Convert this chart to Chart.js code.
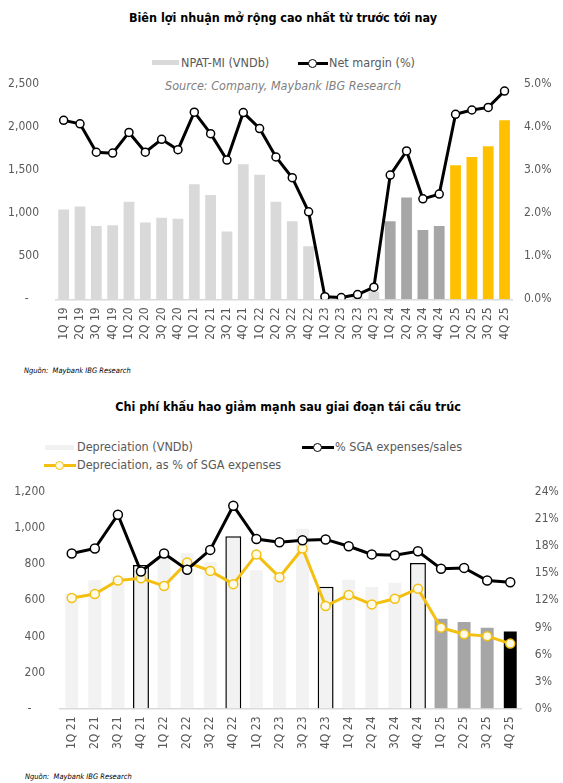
<!DOCTYPE html>
<html>
<head>
<meta charset="utf-8">
<script src="https://cdn.jsdelivr.net/npm/chart.js@4"></script>
<style>
  body { margin: 0; background: #fff; }
  #page { position: relative; width: 563px; height: 783px; overflow: hidden;
          font-family: "DejaVu Sans Condensed", "DejaVu Sans", sans-serif; }
  .abs { position: absolute; white-space: nowrap; }
  .title { font-weight: bold; font-size: 12.5px; color: #000; line-height: 16px; }
  .leg { font-size: 12.5px; color: #595959; line-height: 14px; }
  .src { font-size: 12.5px; color: #7f7f7f; font-style: italic; line-height: 14px; }
  .foot { font-size: 7.5px; font-style: italic; color: #000; line-height: 10px; }
  .mk { position: absolute; height: 3px; }
  .mk i { position: absolute; left: 50%; top: 50%; width: 7px; height: 7px; margin: -5px 0 0 -5px;
          border-radius: 50%; border: 1.5px solid; }
  canvas { position: absolute; left: 0; }
</style>
</head>
<body>
<div id="page">
  <div class="abs title" style="left:0;width:566px;text-align:center;top:10px">Biên lợi nhuận mở rộng cao nhất từ trước tới nay</div>
  <div class="abs" style="left:152px;top:60px;width:27px;height:5px;background:#d9d9d9"></div>
  <div class="abs leg" style="left:181px;top:56px">NPAT-MI (VNDb)</div>
  <div class="mk" style="left:298px;top:62px;width:30px;background:#000"><i style="background:#fff;border-color:#000"></i></div>
  <div class="abs leg" style="left:329px;top:56px">Net margin (%)</div>
  <div class="abs src" style="left:165px;top:79px">Source: Company, Maybank IBG Research</div>
  <canvas id="c1" width="563" height="300" style="top:60px"></canvas>
  <div class="abs foot" style="left:24px;top:366px">Nguồn:&nbsp; Maybank IBG Research</div>

  <div class="abs title" style="left:0;width:576px;text-align:center;top:399px">Chi phí khấu hao giảm mạnh sau giai đoạn tái cấu trúc</div>
  <div class="abs" style="left:45px;top:445px;width:29px;height:5px;background:#f2f2f2"></div>
  <div class="abs leg" style="left:77px;top:440px">Depreciation (VNDb)</div>
  <div class="mk" style="left:302px;top:446px;width:32px;background:#000"><i style="background:#fff;border-color:#000"></i></div>
  <div class="abs leg" style="left:335px;top:440px">% SGA expenses/sales</div>
  <div class="mk" style="left:44px;top:464px;width:32px;background:#f3c012"><i style="background:#fffbe6;border-color:#f3c012"></i></div>
  <div class="abs leg" style="left:77px;top:458px">Depreciation, as % of SGA expenses</div>
  <canvas id="c2" width="563" height="300" style="top:470px"></canvas>
  <div class="abs foot" style="left:25px;top:772px">Nguồn:&nbsp; Maybank IBG Research</div>
</div>

<script>
// chart 1: NPAT-MI and net margin
const quarters1 = ['1Q 19','2Q 19','3Q 19','4Q 19','1Q 20','2Q 20','3Q 20','4Q 20',
  '1Q 21','2Q 21','3Q 21','4Q 21','1Q 22','2Q 22','3Q 22','4Q 22',
  '1Q 23','2Q 23','3Q 23','4Q 23','1Q 24','2Q 24','3Q 24','4Q 24',
  '1Q 25','2Q 25','3Q 25','4Q 25'];
const npatMi = [1040, 1075, 850, 860, 1130, 890, 945, 935,
  1335, 1210, 785, 1565, 1445, 1130, 905, 615,
  10, 5, 25, 90, 905, 1180, 805, 850,
  1555, 1650, 1775, 2075];
const netMargin = [4.15, 4.07, 3.41, 3.39, 3.87, 3.41, 3.71, 3.47,
  4.34, 3.84, 3.23, 4.33, 3.96, 3.30, 2.82, 2.03,
  0.06, 0.04, 0.11, 0.28, 2.88, 3.44, 2.33, 2.44,
  4.29, 4.39, 4.45, 4.83];
const npatColors = quarters1.map(q => q.endsWith('25') ? '#ffc000' : q.endsWith('24') ? '#a6a6a6' : '#d9d9d9');

// chart 2: depreciation
const quarters2 = ['1Q 21','2Q 21','3Q 21','4Q 21','1Q 22','2Q 22','3Q 22','4Q 22',
  '1Q 23','2Q 23','3Q 23','4Q 23','1Q 24','2Q 24','3Q 24','4Q 24',
  '1Q 25','2Q 25','3Q 25','4Q 25'];
const depreciation = [645, 720, 740, 796, 850, 870, 820, 955,
  775, 740, 1005, 675, 723, 682, 706, 807,
  506, 488, 457, 436];
const sgaToSales = [17.2, 17.75, 21.5, 15.2, 17.2, 15.4, 17.6, 22.5,
  18.8, 18.45, 18.66, 18.76, 18.0, 17.1, 17.0, 17.44,
  15.5, 15.6, 14.2, 14.0];
const deprToSga = [12.27, 12.7, 14.2, 14.46, 13.6, 16.2, 15.27, 13.8,
  17.1, 14.57, 17.75, 11.37, 12.6, 11.55, 12.17, 13.3,
  8.97, 8.24, 8.03, 7.2];
const deprColors = quarters2.map(q => q.endsWith('25') ? (q === '4Q 25' ? '#000000' : '#a6a6a6') : '#f2f2f2');
const deprBorders = quarters2.map(q => (q.startsWith('4Q') && !q.endsWith('25')) ? '#000000' : 'rgba(0,0,0,0)');

const tickFont = { family: '"DejaVu Sans Condensed", "DejaVu Sans", sans-serif', size: 12 };
const tickColor = '#595959';

function axisY(width, pad, min, max, step, fmt, pos) {
  return {
    position: pos, min: min, max: max,
    grid: { display: false, drawTicks: false }, border: { display: false },
    ticks: { stepSize: step, padding: pad, color: tickColor, font: tickFont, callback: fmt },
    afterFit: s => { s.width = width; }
  };
}
function axisX(height) {
  return {
    grid: { display: false, drawTicks: false },
    border: { display: true, color: '#d9d9d9', width: 1.5 },
    ticks: { minRotation: 90, maxRotation: 90, autoSkip: false, padding: 8, color: tickColor, font: tickFont },
    afterFit: s => { s.height = height; }
  };
}
const baseOpts = {
  responsive: false, animation: false,
  plugins: { legend: { display: false }, tooltip: { enabled: false } }
};

new Chart(document.getElementById('c1'), {
  data: {
    labels: quarters1,
    datasets: [
      { type: 'line', data: netMargin, yAxisID: 'y1', order: 0,
        borderColor: '#000', borderWidth: 3, pointRadius: 4, pointBorderWidth: 1.5,
        pointBackgroundColor: '#fff', pointBorderColor: '#000', tension: 0 },
      { type: 'bar', data: npatMi, yAxisID: 'y', order: 1,
        backgroundColor: npatColors, barPercentage: 0.66, categoryPercentage: 1 }
    ]
  },
  options: Object.assign({}, baseOpts, {
    layout: { autoPadding: false, padding: { top: 13.3, bottom: 0, left: 0, right: 0 } },
    scales: {
      x: axisX(60.7),
      y: axisY(55.5, 16.5, 0, 2500, 500, v => v === 0 ? '-   ' : v.toLocaleString('en-US'), 'left'),
      y1: axisY(50.3, 11.3, 0, 5, 1, v => v.toFixed(1) + '%', 'right')
    }
  })
});

new Chart(document.getElementById('c2'), {
  data: {
    labels: quarters2,
    datasets: [
      { type: 'line', data: sgaToSales, yAxisID: 'y1', order: 0,
        borderColor: '#000', borderWidth: 3, pointRadius: 4.5, pointBorderWidth: 1.5,
        pointBackgroundColor: '#fff', pointBorderColor: '#000', tension: 0 },
      { type: 'line', data: deprToSga, yAxisID: 'y1', order: 0,
        borderColor: '#f3c012', borderWidth: 3, pointRadius: 4.5, pointBorderWidth: 1.5,
        pointBackgroundColor: '#fffbe6', pointBorderColor: '#f3c012', tension: 0 },
      { type: 'bar', data: depreciation, yAxisID: 'y', order: 1,
        backgroundColor: deprColors, borderColor: deprBorders, borderWidth: 1.5,
        barPercentage: 0.69, categoryPercentage: 1 }
    ]
  },
  options: Object.assign({}, baseOpts, {
    layout: { autoPadding: false, padding: { top: 8.3, bottom: 0, left: 0, right: 0 } },
    scales: {
      x: axisX(61.5),
      y: axisY(60.2, 15, 0, 1200, 200, v => v === 0 ? '-    ' : v.toLocaleString('en-US'), 'left'),
      y1: axisY(41.2, 13, 0, 24, 3, v => v + '%', 'right')
    }
  })
});
</script>
</body>
</html>
